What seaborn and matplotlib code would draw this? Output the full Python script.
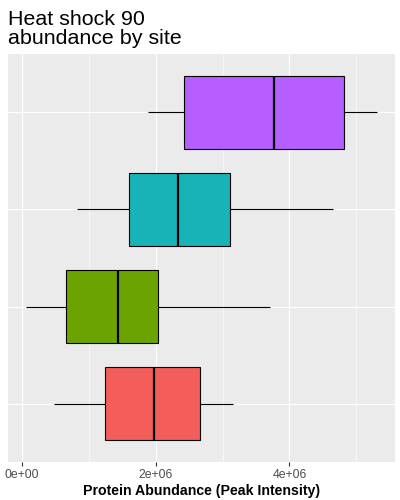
"""
Heat shock 90 abundance by site - horizontal boxplots
"""

import numpy as np
import pandas as pd
import matplotlib
matplotlib.use("Agg")
import matplotlib.pyplot as plt
from matplotlib.ticker import FuncFormatter, MultipleLocator
import seaborn as sns

# Data: five-number summaries (peak intensity)
sites = ["Site 1", "Site 2", "Site 3", "Site 4"]
site_colors = ["#F35E5A", "#6BA300", "#17B3B7", "#B65EFF"]
whisker_low = [0.48e6, 0.055e6, 0.825e6, 1.89e6]
q1 = [1.24e6, 0.665e6, 1.605e6, 2.425e6]
median = [1.975e6, 1.43e6, 2.335e6, 3.775e6]
q3 = [2.665e6, 2.03e6, 3.115e6, 4.82e6]
whisker_high = [3.155e6, 3.705e6, 4.645e6, 5.315e6]

# Table long format (5 values per site reproduce the quartiles exactly)
rows = []
for i, s in enumerate(sites):
    for v in (whisker_low[i], q1[i], median[i], q3[i], whisker_high[i]):
        rows.append({"site": s, "abundance": v})
df = pd.DataFrame(rows)

# Theme (ggplot-like grey)
sns.set_theme(style="darkgrid", rc={
    "axes.facecolor": "#EBEBEB",
    "grid.color": "white",
    "axes.edgecolor": "#EBEBEB",
})
plt.rcParams["font.family"] = ["Liberation Sans", "DejaVu Sans"]

fig = plt.figure(figsize=(4, 5), dpi=100)
ax = fig.add_axes([0.02, 0.076, 0.9675, 0.816])

# top of the plot = last site
order = sites[::-1]
palette = dict(zip(sites, site_colors))

sns.boxplot(data=df, x="abundance", y="site", hue="site", order=order,
            hue_order=sites, palette=palette, width=0.75, linecolor="black",
            linewidth=0.8, showcaps=False, showfliers=False, saturation=1,
            medianprops={"linewidth": 1.6}, legend=False, ax=ax)

# ggplot-like expansion
lo = min(whisker_low)
hi = max(whisker_high)
pad = 0.05 * (hi - lo)
ax.set_xlim(lo - pad, hi + pad)
ax.set_ylim(len(sites) - 0.4, -0.6)

ax.xaxis.set_major_locator(MultipleLocator(2e6))
ax.xaxis.set_minor_locator(MultipleLocator(1e6))
ax.xaxis.set_major_formatter(FuncFormatter(lambda v, p: f"{v:.0e}"))
ax.grid(which="major", axis="both", color="white", linewidth=0.8)
ax.grid(which="minor", axis="x", color="white", linewidth=0.4)
ax.set_axisbelow(True)

ax.tick_params(axis="x", which="major", bottom=True, length=3, width=0.8,
               color="#333333", labelsize=8.8, labelcolor="#4D4D4D", pad=2)
ax.tick_params(axis="x", which="minor", bottom=False)
ax.tick_params(axis="y", left=False, labelleft=False)
for sp in ax.spines.values():
    sp.set_visible(False)

ax.set_ylabel("")
ax.set_xlabel("Protein Abundance (Peak Intensity)", fontsize=10.2,
              fontweight="bold", color="black", labelpad=2)
ax.set_title("Heat shock 90\nabundance by site", loc="left", fontsize=15.4,
             color="black", pad=7, linespacing=1.02)

fig.savefig("out.png", dpi=100)
plt.close(fig)
